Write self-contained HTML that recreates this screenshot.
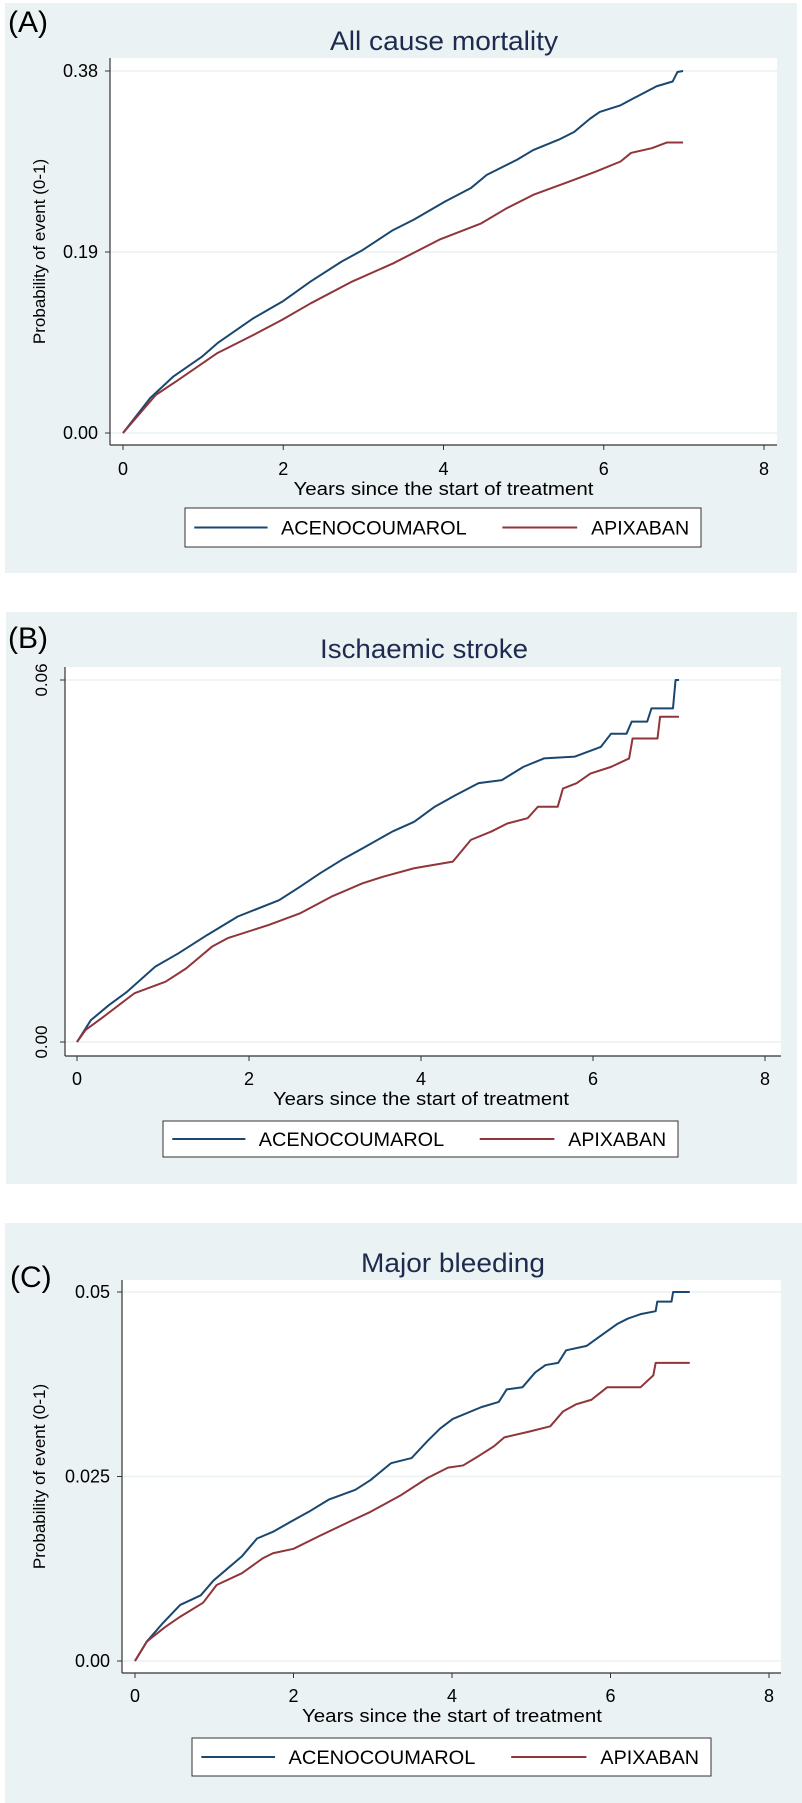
<!DOCTYPE html>
<html><head><meta charset="utf-8"><style>
html,body{margin:0;padding:0;background:#fff;}
svg{display:block;font-family:"Liberation Sans",sans-serif;}
</style></head><body>
<svg id="fig" width="802" height="1803" viewBox="0 0 802 1803"></svg>
<script>
// ---- Panel A data: All cause mortality ----
const aBlueX=[0,0.34,0.63,0.99,1.18,1.63,1.99,2.34,2.73,2.99,3.37,3.63,4.02,4.34,4.54,4.92,5.12,5.44,5.63,5.83,5.95,6.21,6.41,6.66,6.86,6.92,6.99];
const aBlueY=[0,0.0367,0.0594,0.0804,0.0944,0.1206,0.138,0.159,0.180,0.192,0.213,0.224,0.243,0.257,0.271,0.287,0.297,0.308,0.316,0.330,0.337,0.344,0.353,0.364,0.369,0.379,0.38];
const aRedX=[0,0.41,0.66,1.18,1.63,1.99,2.34,2.86,3.37,3.95,4.47,4.79,5.12,5.57,5.89,6.21,6.34,6.6,6.79,6.99];
const aRedY=[0,0.040,0.054,0.084,0.103,0.119,0.136,0.159,0.178,0.203,0.220,0.236,0.250,0.264,0.274,0.285,0.294,0.299,0.305,0.305];
const aTicksY=[0,0.19,0.38];
const aTickLabelsY=["0.00","0.19","0.38"];
// ---- Panel B data: Ischaemic stroke ----
const bBlueX=[0,0.16,0.37,0.58,0.91,1.18,1.51,1.87,2.35,2.59,2.83,3.08,3.32,3.67,3.92,4.16,4.40,4.67,4.94,5.19,5.43,5.79,6.09,6.21,6.39,6.45,6.63,6.68,6.93,6.96,7.0];
const bBlueY=[0,0.0036,0.0061,0.0083,0.0125,0.0147,0.0177,0.0208,0.0235,0.0257,0.0280,0.0302,0.0321,0.0349,0.0365,0.0390,0.0409,0.0429,0.0434,0.0456,0.0470,0.0473,0.0489,0.0511,0.0511,0.0531,0.0531,0.0553,0.0553,0.06,0.06];
const bRedX=[0,0.1,0.31,0.67,1.03,1.27,1.57,1.75,2.23,2.59,2.96,3.32,3.56,3.92,4.37,4.58,4.82,5.0,5.24,5.36,5.59,5.65,5.81,5.97,6.21,6.42,6.46,6.75,6.78,7.0];
const bRedY=[0,0.002,0.0042,0.0081,0.010,0.0122,0.0158,0.0172,0.0194,0.0213,0.0241,0.0263,0.0274,0.0288,0.0299,0.0335,0.0349,0.0362,0.0371,0.0390,0.0390,0.0420,0.0429,0.0445,0.0456,0.0470,0.0503,0.0503,0.0539,0.0539];
const bTicksY=[0,0.06];
const bTickLabelsY=["0.00","0.06"];
// ---- Panel C data: Major bleeding ----
const cBlueX=[0,0.15,0.34,0.57,0.83,0.99,1.35,1.54,1.74,1.97,2.19,2.45,2.78,2.97,3.23,3.49,3.69,3.85,4.01,4.37,4.59,4.69,4.89,5.05,5.18,5.34,5.44,5.70,5.92,6.09,6.22,6.38,6.57,6.59,6.77,6.79,7.0];
const cBlueY=[0,0.00265,0.005,0.0076,0.0089,0.0109,0.0142,0.0166,0.0175,0.0189,0.0202,0.0219,0.0232,0.0245,0.0268,0.0275,0.0298,0.0315,0.0328,0.0344,0.0351,0.0368,0.0371,0.0391,0.0401,0.0404,0.0421,0.0427,0.0444,0.0457,0.0464,0.047,0.0474,0.0487,0.0487,0.05,0.05];
const cRedX=[0,0.15,0.38,0.57,0.86,1.03,1.35,1.61,1.74,2.0,2.32,2.71,2.97,3.36,3.69,3.95,4.14,4.34,4.53,4.66,4.98,5.24,5.40,5.57,5.76,5.96,6.38,6.54,6.57,7.0];
const cRedY=[0,0.00265,0.0046,0.006,0.0079,0.0103,0.0119,0.0139,0.0146,0.0152,0.0169,0.0189,0.0202,0.0225,0.0248,0.0262,0.0265,0.0278,0.0291,0.0303,0.0311,0.0318,0.0338,0.0348,0.0354,0.0371,0.0371,0.0387,0.0404,0.0404];
const cTicksY=[0,0.025,0.05];
const cTickLabelsY=["0.00","0.025","0.05"];
const ticksX=[0,2,4,6,8];
const seriesNames=["ACENOCOUMAROL","APIXABAN"];

const NS="http://www.w3.org/2000/svg";
const svg=document.getElementById('fig');
const BLUE="#1a476f", RED="#90353b", BG="#eaf2f3";
function el(tag,attrs,parent,text){const e=document.createElementNS(NS,tag);for(const k in attrs)e.setAttribute(k,attrs[k]);if(text!==undefined)e.textContent=text;(parent||svg).appendChild(e);return e;}

const panels=[
 {letter:"(A)",title:"All cause mortality",bg:[5,3,792,570],letterPos:[8,32],titlePos:[444,50],titleLen:228,plot:[110,58,777,445],
  x0:123,x8:764,yMin:0,yMax:0.38,yPx0:433,yPxMax:71,ticksY:aTicksY,labelsY:aTickLabelsY,rotY:false,yTitle:true,yTitleX:39,
  tickLabY:475,axTitleY:495,axTitleLen:300,legend:[185,508,701,547],blueX:aBlueX,blueY:aBlueY,redX:aRedX,redY:aRedY,key:'a'},
 {letter:"(B)",title:"Ischaemic stroke",bg:[6,612,791,572],letterPos:[8,648],titlePos:[424,658],titleLen:208,plot:[65,667,781,1056],
  x0:77,x8:765,yMin:0,yMax:0.06,yPx0:1042,yPxMax:680,ticksY:bTicksY,labelsY:bTickLabelsY,rotY:true,yTitle:false,
  tickLabY:1085,axTitleY:1105,axTitleLen:296,legend:[163,1121,678,1157],blueX:bBlueX,blueY:bBlueY,redX:bRedX,redY:bRedY,key:'b'},
 {letter:"(C)",title:"Major bleeding",bg:[5,1223,797,580],letterPos:[10,1287],titlePos:[453,1272],titleLen:184,plot:[122,1280,781,1673],
  x0:135,x8:769,yMin:0,yMax:0.05,yPx0:1661,yPxMax:1292,ticksY:cTicksY,labelsY:cTickLabelsY,rotY:false,yTitle:true,yTitleX:39,
  tickLabY:1702,axTitleY:1722,axTitleLen:300,legend:[192,1738,711,1776],blueX:cBlueX,blueY:cBlueY,redX:cRedX,redY:cRedY,key:'c'}
];

panels.forEach(p=>{
 const g=el('g',{});
 
 
 const bg=el('rect',{x:p.bg[0],y:p.bg[1],width:p.bg[2],height:p.bg[3],fill:BG},g);
 
 
 const lt=el('text',{x:p.letterPos[0],y:p.letterPos[1],'font-size':30,fill:'#000'},g,p.letter);
 
 
 const [L,T,R,B]=p.plot;
 const pa=el('rect',{x:L,y:T,width:R-L,height:B-T,fill:'#fff'},g);
 
 
 const tt=el('text',{x:p.titlePos[0],y:p.titlePos[1],'font-size':27,fill:'#1e2b4f','text-anchor':'middle',textLength:p.titleLen,lengthAdjust:'spacingAndGlyphs'},g,p.title);
 
 
 const sx=v=>p.x0+(p.x8-p.x0)*v/8;
 const sy=v=>p.yPx0+(p.yPxMax-p.yPx0)*(v-p.yMin)/(p.yMax-p.yMin);
 p.ticksY.forEach((t,i)=>{
  const gl=el('line',{x1:L,x2:R,y1:sy(t),y2:sy(t),stroke:BG,'stroke-width':1.5},g);
  
  
  el('line',{x1:L-5,x2:L,y1:sy(t),y2:sy(t),stroke:'#333','stroke-width':1},g);
  let lb;
  if(p.rotY){
   lb=el('text',{x:0,y:0,'font-size':17,fill:'#000','text-anchor':'middle',transform:`translate(${L-18},${sy(t)}) rotate(-90)`},g,p.labelsY[i]);
  } else {
   lb=el('text',{x:L-12,y:sy(t)+6,'font-size':18,fill:'#000','text-anchor':'end'},g,p.labelsY[i]);
  }
  
  
 });
 ticksX.forEach(t=>{
  el('line',{x1:sx(t),x2:sx(t),y1:B,y2:B+5,stroke:'#333','stroke-width':1},g);
  const lb=el('text',{x:sx(t),y:p.tickLabY,'font-size':18,fill:'#000','text-anchor':'middle'},g,String(t));
  
  
 });
 el('line',{x1:L,x2:L,y1:T,y2:B,stroke:'#333','stroke-width':1.2},g);
 el('line',{x1:L,x2:R,y1:B,y2:B,stroke:'#333','stroke-width':1.2},g);
 const xt=el('text',{x:(p.x0+p.x8)/2,y:p.axTitleY,'font-size':18,fill:'#000','text-anchor':'middle',textLength:p.axTitleLen,lengthAdjust:'spacingAndGlyphs'},g,'Years since the start of treatment');
 
 
 if(p.yTitle){
  const yt=el('text',{x:0,y:0,'font-size':17,fill:'#000','text-anchor':'middle',transform:`translate(${p.yTitleX+6},${(T+B)/2}) rotate(-90)`},g,'Probability of event (0-1)');
  
  
 }
 function linePath(xs,ys){let d=`M${sx(xs[0])},${sy(ys[0])}`;for(let i=1;i<xs.length;i++){d+=`L${sx(xs[i])},${sy(ys[i])}`;}return d;}
 const lb=el('path',{d:linePath(p.blueX,p.blueY),fill:'none',stroke:BLUE,'stroke-width':2,'stroke-linejoin':'round'},g);
 
 
 const lr=el('path',{d:linePath(p.redX,p.redY),fill:'none',stroke:RED,'stroke-width':2,'stroke-linejoin':'round'},g);
 
 
 const [lx1,ly1,lx2,ly2]=p.legend;
 const lg=el('g',{},g);
 
 
 el('rect',{x:lx1,y:ly1,width:lx2-lx1,height:ly2-ly1,fill:'#fff',stroke:'#333','stroke-width':1},lg);
 const w=lx2-lx1, cy=(ly1+ly2)/2;
 const e1=el('g',{},lg);
 
 
 el('line',{x1:lx1+w*0.018,x2:lx1+w*0.16,y1:cy,y2:cy,stroke:BLUE,'stroke-width':2},e1);
 el('text',{x:lx1+w*0.186,y:cy+7,'font-size':19,fill:'#000',textLength:w*0.36,lengthAdjust:'spacingAndGlyphs'},e1,seriesNames[0]);
 const e2=el('g',{},lg);
 
 
 el('line',{x1:lx1+w*0.615,x2:lx1+w*0.76,y1:cy,y2:cy,stroke:RED,'stroke-width':2},e2);
 el('text',{x:lx1+w*0.787,y:cy+7,'font-size':19,fill:'#000',textLength:w*0.19,lengthAdjust:'spacingAndGlyphs'},e2,seriesNames[1]);
});
</script>
</body></html>
